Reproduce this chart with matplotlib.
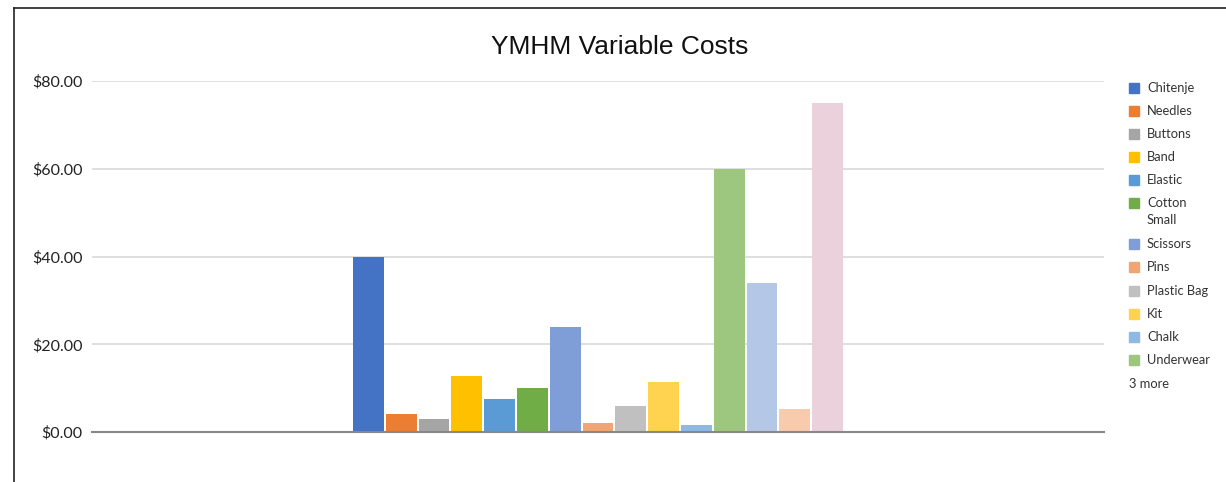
import numpy as np
import matplotlib
matplotlib.use("Agg")
import matplotlib.pyplot as plt
from matplotlib.patches import Rectangle
from matplotlib.lines import Line2D
from matplotlib.ticker import FuncFormatter

# ---- data ----
items = ["Chitenje", "Needles", "Buttons", "Band", "Elastic", "Cotton\nSmall",
         "Scissors", "Pins", "Plastic Bag", "Kit", "Chalk", "Underwear",
         "Item 13", "Item 14", "Item 15"]
costs = [40, 4, 3, 12.8, 7.5, 10, 24, 2, 6, 11.5, 1.5, 60, 34, 5.2, 75]
colors = ["#4472C4", "#ED7D31", "#A5A5A5", "#FFC000", "#5B9BD5", "#70AD47",
          "#7F9DD6", "#F1A572", "#C0C0C0", "#FFD34F", "#8DB9E3", "#9DC67F",
          "#B4C7E7", "#F8CBAD", "#EAD1DC"]
shown = 12
yticks = [0, 20, 40, 60, 80]

W, H = 1226, 482
fig = plt.figure(figsize=(W / 100, H / 100), dpi=100)

# plot area in pixels
x0, x1, ytop, ybot = 92, 1104, 81, 432
ax = fig.add_axes([x0 / W, 1 - ybot / H, (x1 - x0) / W, (ybot - ytop) / H])

step = 32.8 / (x1 - x0)
n = len(costs)
for i, (c, col) in enumerate(zip(costs, colors)):
    ax.bar((i - (n - 1) / 2) * step, c, width=step * 0.94, color=col, zorder=3)

ax.set_xlim(-0.5, 0.5)
ax.set_ylim(0, 80)
ax.set_yticks(yticks)
ax.yaxis.set_major_formatter(FuncFormatter(lambda v, p: "${:.2f}".format(v)))
ax.set_xticks([])
for s in ["left", "right", "top"]:
    ax.spines[s].set_visible(False)
ax.spines["bottom"].set_color("#888888")
ax.spines["bottom"].set_linewidth(1.5)
ax.spines["bottom"].set_zorder(4)
ax.tick_params(axis="y", length=0, pad=7, labelsize=11.5, labelcolor="#222222")
for t in ax.get_yticklabels():
    t.set_fontfamily("Lato")
ax.grid(axis="y", color="#D9D9D9", linewidth=1.2, zorder=0)

fig.text(620 / W, 1 - 47 / H, "YMHM Variable Costs", ha="center", va="center",
         fontsize=19, family="Liberation Sans", color="#111111")

# legend built by hand
ly = [88, 111, 134, 157, 180, 203, 244, 267, 291, 314, 337, 360]
for name, col, y in zip(items[:shown], colors[:shown], ly):
    fig.patches.append(Rectangle((1129 / W, 1 - (y + 5) / H), 10 / W, 10 / H,
                                 transform=fig.transFigure, color=col))
    fig.text(1147 / W, 1 - (y - 6) / H, name, ha="left", va="top",
             fontsize=9.3, family="Lato", color="#333333", linespacing=1.55)
fig.text(1129 / W, 1 - 384 / H, "%d more" % (n - shown), ha="left", va="center",
         fontsize=9.3, family="Lato", color="#333333")

# outer frame (left and top edges)
fig.add_artist(Line2D([14 / W, 14 / W], [0, 1 - 8 / H], color="#222222", lw=1.2,
                      transform=fig.transFigure))
fig.add_artist(Line2D([14 / W, 1], [1 - 8 / H, 1 - 8 / H], color="#222222", lw=1.2,
                      transform=fig.transFigure))

fig.savefig("out.png", dpi=100)
